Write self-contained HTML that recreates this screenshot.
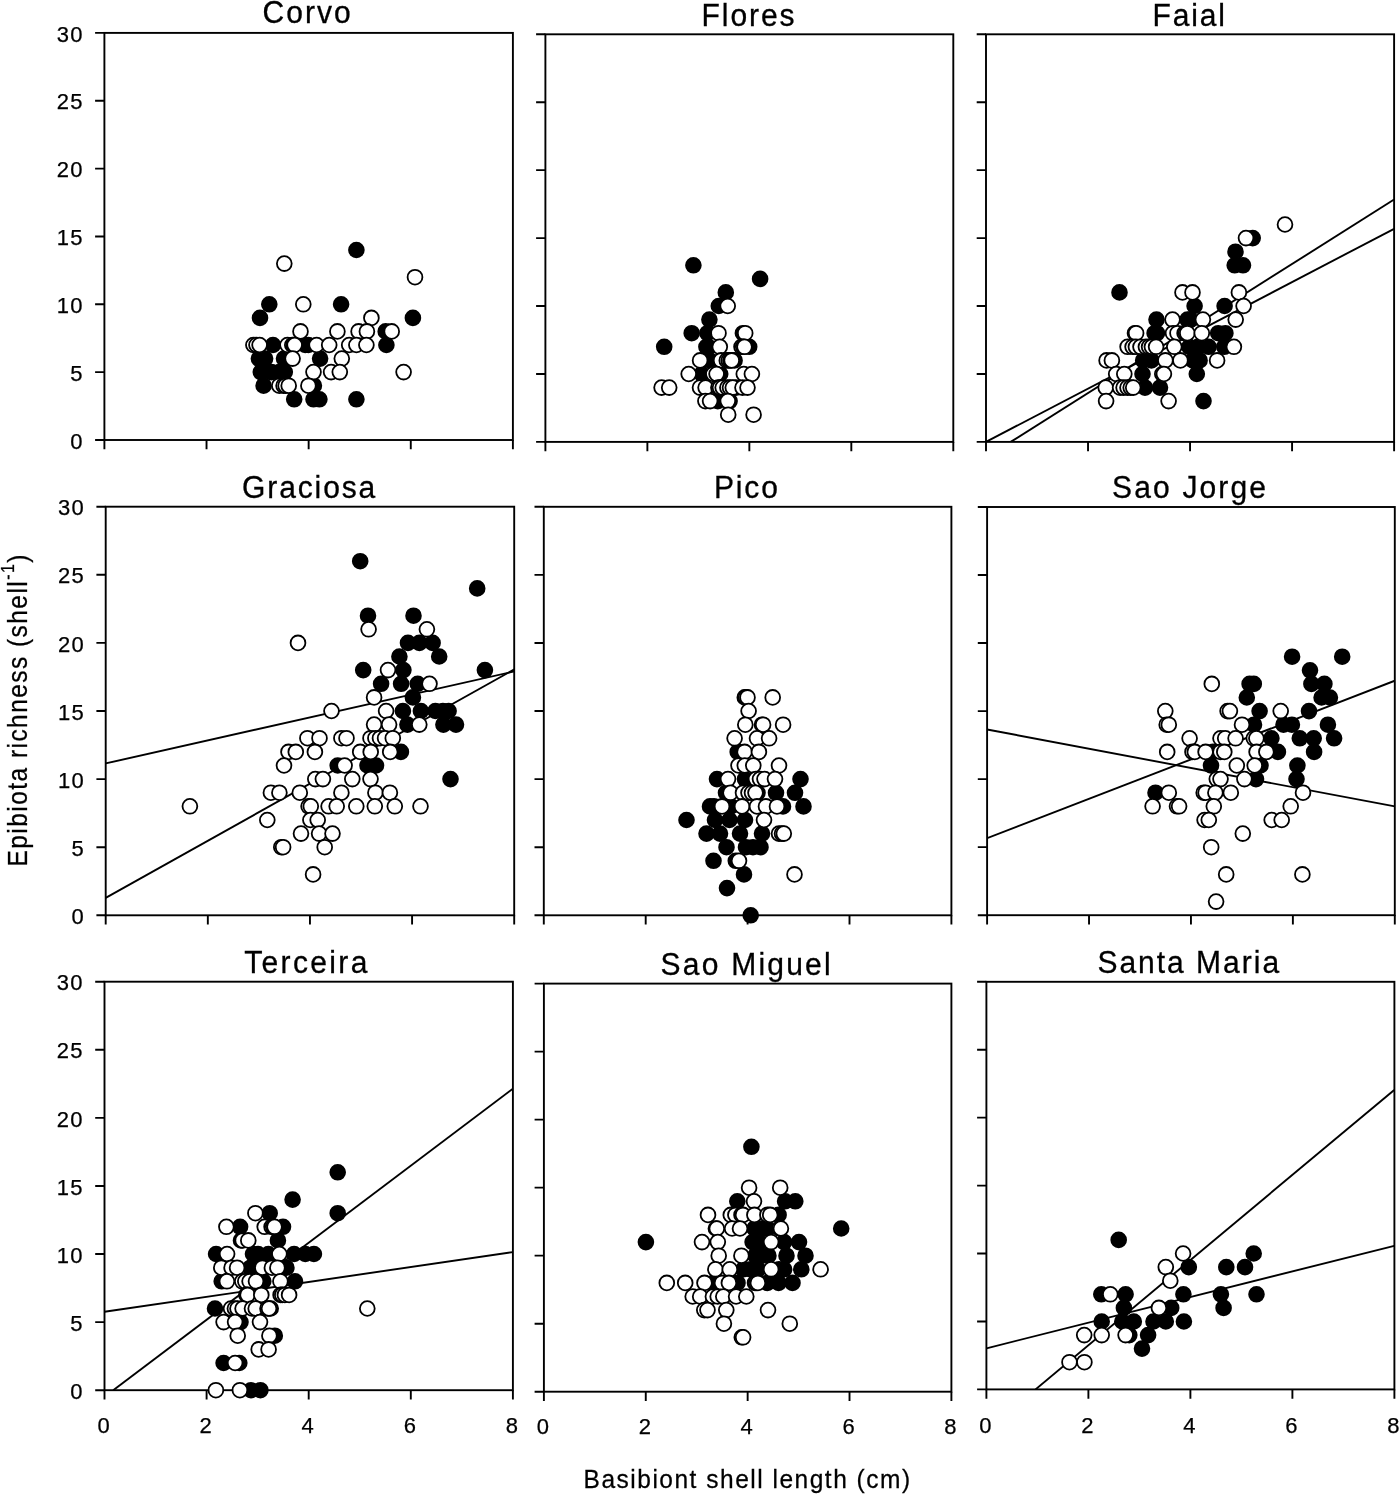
<!DOCTYPE html>
<html lang="en"><head><meta charset="utf-8"><title>Epibiota richness vs basibiont shell length</title>
<style>html,body{margin:0;padding:0;background:#fff}svg{display:block}</style></head>
<body>
<svg width="1400" height="1495" viewBox="0 0 1400 1495">
<rect width="1400" height="1495" fill="#fff"/>
<g font-family="'Liberation Sans', sans-serif" fill="#000">
<clipPath id="c1"><rect x="104.4" y="32.9" width="408.50" height="407.10"/></clipPath>
<clipPath id="c2"><rect x="545.4" y="34.3" width="407.90" height="407.60"/></clipPath>
<clipPath id="c3"><rect x="986.0" y="34.3" width="408.10" height="407.60"/></clipPath>
<clipPath id="c4"><rect x="105.7" y="506.7" width="408.50" height="408.60"/></clipPath>
<clipPath id="c5"><rect x="543.8" y="506.8" width="407.60" height="408.50"/></clipPath>
<clipPath id="c6"><rect x="987.1" y="507.0" width="407.70" height="408.20"/></clipPath>
<clipPath id="c7"><rect x="104.5" y="981.7" width="408.40" height="408.50"/></clipPath>
<clipPath id="c8"><rect x="543.9" y="983.6" width="407.50" height="408.10"/></clipPath>
<clipPath id="c9"><rect x="986.4" y="981.8" width="408.00" height="407.60"/></clipPath>
<g clip-path="url(#c1)" stroke="#000" stroke-width="1.9" fill="none">
</g>
<rect x="104.4" y="32.9" width="408.50" height="407.10" fill="none" stroke="#000" stroke-width="1.9"/>
<path d="M95.10 440.00H104.40M95.10 372.15H104.40M95.10 304.30H104.40M95.10 236.45H104.40M95.10 168.60H104.40M95.10 100.75H104.40M95.10 32.90H104.40M104.40 440.00V449.30M206.53 440.00V449.30M308.65 440.00V449.30M410.77 440.00V449.30M512.90 440.00V449.30" stroke="#000" stroke-width="1.9" fill="none"/>
<g fill="#000" stroke="#000" stroke-width="2">
<circle cx="273.0" cy="345.0" r="7.3"/>
<circle cx="305.2" cy="345.0" r="7.3"/>
<circle cx="308.4" cy="345.0" r="7.3"/>
<circle cx="258.9" cy="358.6" r="7.3"/>
<circle cx="265.1" cy="358.6" r="7.3"/>
<circle cx="284.0" cy="358.6" r="7.3"/>
<circle cx="320.1" cy="358.6" r="7.3"/>
<circle cx="260.8" cy="372.1" r="7.3"/>
<circle cx="271.4" cy="372.1" r="7.3"/>
<circle cx="279.3" cy="372.1" r="7.3"/>
<circle cx="284.8" cy="372.1" r="7.3"/>
<circle cx="263.6" cy="385.7" r="7.3"/>
<circle cx="313.9" cy="385.7" r="7.3"/>
<circle cx="294.2" cy="399.3" r="7.3"/>
<circle cx="313.5" cy="399.3" r="7.3"/>
<circle cx="319.4" cy="399.3" r="7.3"/>
<circle cx="356.4" cy="250.0" r="7.3"/>
<circle cx="269.3" cy="304.3" r="7.3"/>
<circle cx="341.1" cy="304.3" r="7.3"/>
<circle cx="260.0" cy="317.9" r="7.3"/>
<circle cx="412.9" cy="317.9" r="7.3"/>
<circle cx="385.7" cy="331.4" r="7.3"/>
<circle cx="386.4" cy="345.0" r="7.3"/>
<circle cx="356.4" cy="399.3" r="7.3"/>
</g>
<g fill="#fff" stroke="#000" stroke-width="1.8">
<circle cx="300.5" cy="331.4" r="7.4"/>
<circle cx="337.4" cy="331.4" r="7.4"/>
<circle cx="253.4" cy="345.0" r="7.4"/>
<circle cx="256.5" cy="345.0" r="7.4"/>
<circle cx="259.6" cy="345.0" r="7.4"/>
<circle cx="287.5" cy="345.0" r="7.4"/>
<circle cx="292.3" cy="345.0" r="7.4"/>
<circle cx="293.8" cy="345.0" r="7.4"/>
<circle cx="294.6" cy="345.0" r="7.4"/>
<circle cx="316.6" cy="345.0" r="7.4"/>
<circle cx="329.2" cy="345.0" r="7.4"/>
<circle cx="349.2" cy="345.0" r="7.4"/>
<circle cx="292.6" cy="358.6" r="7.4"/>
<circle cx="341.8" cy="358.6" r="7.4"/>
<circle cx="313.5" cy="372.1" r="7.4"/>
<circle cx="331.1" cy="372.1" r="7.4"/>
<circle cx="339.8" cy="372.1" r="7.4"/>
<circle cx="279.3" cy="385.7" r="7.4"/>
<circle cx="283.6" cy="385.7" r="7.4"/>
<circle cx="285.6" cy="385.7" r="7.4"/>
<circle cx="288.7" cy="385.7" r="7.4"/>
<circle cx="308.4" cy="385.7" r="7.4"/>
<circle cx="284.3" cy="263.6" r="7.4"/>
<circle cx="415.0" cy="277.2" r="7.4"/>
<circle cx="303.3" cy="304.3" r="7.4"/>
<circle cx="371.4" cy="317.9" r="7.4"/>
<circle cx="358.6" cy="331.4" r="7.4"/>
<circle cx="366.9" cy="331.4" r="7.4"/>
<circle cx="391.7" cy="331.4" r="7.4"/>
<circle cx="356.4" cy="345.0" r="7.4"/>
<circle cx="366.4" cy="345.0" r="7.4"/>
<circle cx="403.6" cy="372.1" r="7.4"/>
</g>
<text transform="translate(262.5 23.4) scale(1 1.02)" font-size="30" textLength="88.2" lengthAdjust="spacing" stroke="#000" stroke-width="0.3">Corvo</text>
<g clip-path="url(#c2)" stroke="#000" stroke-width="1.9" fill="none">
</g>
<rect x="545.4" y="34.3" width="407.90" height="407.60" fill="none" stroke="#000" stroke-width="1.9"/>
<path d="M536.10 441.90H545.40M536.10 373.97H545.40M536.10 306.03H545.40M536.10 238.10H545.40M536.10 170.17H545.40M536.10 102.23H545.40M536.10 34.30H545.40M545.40 441.90V451.20M647.38 441.90V451.20M749.35 441.90V451.20M851.32 441.90V451.20M953.30 441.90V451.20" stroke="#000" stroke-width="1.9" fill="none"/>
<g fill="#000" stroke="#000" stroke-width="2">
<circle cx="693.4" cy="265.3" r="7.3"/>
<circle cx="760.1" cy="278.9" r="7.3"/>
<circle cx="725.8" cy="292.4" r="7.3"/>
<circle cx="718.8" cy="306.0" r="7.3"/>
<circle cx="709.4" cy="319.6" r="7.3"/>
<circle cx="691.7" cy="333.2" r="7.3"/>
<circle cx="707.4" cy="333.2" r="7.3"/>
<circle cx="742.9" cy="333.2" r="7.3"/>
<circle cx="664.2" cy="346.8" r="7.3"/>
<circle cx="706.4" cy="346.8" r="7.3"/>
<circle cx="708.4" cy="346.8" r="7.3"/>
<circle cx="749.2" cy="346.8" r="7.3"/>
<circle cx="709.8" cy="360.4" r="7.3"/>
<circle cx="734.6" cy="360.4" r="7.3"/>
<circle cx="701.7" cy="374.0" r="7.3"/>
<circle cx="720.2" cy="374.0" r="7.3"/>
<circle cx="736.0" cy="387.6" r="7.3"/>
<circle cx="717.8" cy="401.1" r="7.3"/>
<circle cx="729.6" cy="401.1" r="7.3"/>
</g>
<g fill="#fff" stroke="#000" stroke-width="1.8">
<circle cx="727.7" cy="306.0" r="7.4"/>
<circle cx="718.5" cy="333.2" r="7.4"/>
<circle cx="745.2" cy="333.2" r="7.4"/>
<circle cx="719.8" cy="346.8" r="7.4"/>
<circle cx="741.5" cy="346.8" r="7.4"/>
<circle cx="743.2" cy="346.8" r="7.4"/>
<circle cx="744.5" cy="346.8" r="7.4"/>
<circle cx="700.1" cy="360.4" r="7.4"/>
<circle cx="721.1" cy="360.4" r="7.4"/>
<circle cx="726.8" cy="360.4" r="7.4"/>
<circle cx="728.8" cy="360.4" r="7.4"/>
<circle cx="730.5" cy="360.4" r="7.4"/>
<circle cx="731.7" cy="360.4" r="7.4"/>
<circle cx="688.7" cy="374.0" r="7.4"/>
<circle cx="713.4" cy="374.0" r="7.4"/>
<circle cx="716.6" cy="374.0" r="7.4"/>
<circle cx="743.8" cy="374.0" r="7.4"/>
<circle cx="751.9" cy="374.0" r="7.4"/>
<circle cx="661.6" cy="387.6" r="7.4"/>
<circle cx="669.2" cy="387.6" r="7.4"/>
<circle cx="700.0" cy="387.6" r="7.4"/>
<circle cx="705.6" cy="387.6" r="7.4"/>
<circle cx="718.4" cy="387.6" r="7.4"/>
<circle cx="720.0" cy="387.6" r="7.4"/>
<circle cx="722.7" cy="387.6" r="7.4"/>
<circle cx="727.4" cy="387.6" r="7.4"/>
<circle cx="730.0" cy="387.6" r="7.4"/>
<circle cx="732.8" cy="387.6" r="7.4"/>
<circle cx="742.5" cy="387.6" r="7.4"/>
<circle cx="747.5" cy="387.6" r="7.4"/>
<circle cx="705.4" cy="401.1" r="7.4"/>
<circle cx="710.1" cy="401.1" r="7.4"/>
<circle cx="727.8" cy="401.1" r="7.4"/>
<circle cx="728.2" cy="414.7" r="7.4"/>
<circle cx="753.6" cy="414.7" r="7.4"/>
</g>
<text transform="translate(701.6 25.7) scale(1 1.02)" font-size="30" textLength="93.0" lengthAdjust="spacing" stroke="#000" stroke-width="0.3">Flores</text>
<g clip-path="url(#c3)" stroke="#000" stroke-width="1.9" fill="none">
<line x1="1010.7" y1="441.9" x2="1394.1" y2="199.5"/>
<line x1="986.0" y1="441.9" x2="1394.1" y2="228.8"/>
</g>
<rect x="986.0" y="34.3" width="408.10" height="407.60" fill="none" stroke="#000" stroke-width="1.9"/>
<path d="M976.70 441.90H986.00M976.70 373.97H986.00M976.70 306.03H986.00M976.70 238.10H986.00M976.70 170.17H986.00M976.70 102.23H986.00M976.70 34.30H986.00M986.00 441.90V451.20M1088.03 441.90V451.20M1190.05 441.90V451.20M1292.07 441.90V451.20M1394.10 441.90V451.20" stroke="#000" stroke-width="1.9" fill="none"/>
<g fill="#000" stroke="#000" stroke-width="2">
<circle cx="1252.7" cy="238.1" r="7.3"/>
<circle cx="1235.5" cy="251.7" r="7.3"/>
<circle cx="1234.7" cy="265.3" r="7.3"/>
<circle cx="1243.0" cy="265.3" r="7.3"/>
<circle cx="1119.5" cy="292.4" r="7.3"/>
<circle cx="1194.6" cy="306.0" r="7.3"/>
<circle cx="1224.6" cy="306.0" r="7.3"/>
<circle cx="1156.5" cy="319.6" r="7.3"/>
<circle cx="1187.5" cy="319.6" r="7.3"/>
<circle cx="1190.5" cy="319.6" r="7.3"/>
<circle cx="1154.6" cy="333.2" r="7.3"/>
<circle cx="1157.0" cy="333.2" r="7.3"/>
<circle cx="1218.2" cy="333.2" r="7.3"/>
<circle cx="1225.4" cy="333.2" r="7.3"/>
<circle cx="1189.3" cy="346.8" r="7.3"/>
<circle cx="1197.9" cy="346.8" r="7.3"/>
<circle cx="1208.6" cy="346.8" r="7.3"/>
<circle cx="1224.3" cy="346.8" r="7.3"/>
<circle cx="1143.2" cy="360.4" r="7.3"/>
<circle cx="1151.4" cy="360.4" r="7.3"/>
<circle cx="1192.9" cy="360.4" r="7.3"/>
<circle cx="1199.6" cy="360.4" r="7.3"/>
<circle cx="1142.5" cy="374.0" r="7.3"/>
<circle cx="1196.8" cy="374.0" r="7.3"/>
<circle cx="1145.0" cy="387.6" r="7.3"/>
<circle cx="1160.0" cy="387.6" r="7.3"/>
<circle cx="1203.5" cy="401.1" r="7.3"/>
</g>
<g fill="#fff" stroke="#000" stroke-width="1.8">
<circle cx="1285.0" cy="224.5" r="7.4"/>
<circle cx="1246.0" cy="238.1" r="7.4"/>
<circle cx="1182.5" cy="292.4" r="7.4"/>
<circle cx="1192.5" cy="292.4" r="7.4"/>
<circle cx="1238.9" cy="292.4" r="7.4"/>
<circle cx="1243.6" cy="306.0" r="7.4"/>
<circle cx="1172.5" cy="319.6" r="7.4"/>
<circle cx="1202.9" cy="319.6" r="7.4"/>
<circle cx="1235.7" cy="319.6" r="7.4"/>
<circle cx="1135.0" cy="333.2" r="7.4"/>
<circle cx="1136.1" cy="333.2" r="7.4"/>
<circle cx="1173.0" cy="333.2" r="7.4"/>
<circle cx="1177.5" cy="333.2" r="7.4"/>
<circle cx="1184.6" cy="333.2" r="7.4"/>
<circle cx="1186.0" cy="333.2" r="7.4"/>
<circle cx="1187.3" cy="333.2" r="7.4"/>
<circle cx="1201.8" cy="333.2" r="7.4"/>
<circle cx="1127.6" cy="346.8" r="7.4"/>
<circle cx="1132.6" cy="346.8" r="7.4"/>
<circle cx="1135.9" cy="346.8" r="7.4"/>
<circle cx="1140.5" cy="346.8" r="7.4"/>
<circle cx="1145.9" cy="346.8" r="7.4"/>
<circle cx="1149.1" cy="346.8" r="7.4"/>
<circle cx="1151.9" cy="346.8" r="7.4"/>
<circle cx="1156.1" cy="346.8" r="7.4"/>
<circle cx="1174.3" cy="346.8" r="7.4"/>
<circle cx="1233.9" cy="346.8" r="7.4"/>
<circle cx="1106.6" cy="360.4" r="7.4"/>
<circle cx="1111.9" cy="360.4" r="7.4"/>
<circle cx="1165.4" cy="360.4" r="7.4"/>
<circle cx="1180.4" cy="360.4" r="7.4"/>
<circle cx="1217.1" cy="360.4" r="7.4"/>
<circle cx="1116.2" cy="374.0" r="7.4"/>
<circle cx="1124.3" cy="374.0" r="7.4"/>
<circle cx="1162.3" cy="374.0" r="7.4"/>
<circle cx="1163.9" cy="374.0" r="7.4"/>
<circle cx="1105.7" cy="387.6" r="7.4"/>
<circle cx="1120.1" cy="387.6" r="7.4"/>
<circle cx="1123.6" cy="387.6" r="7.4"/>
<circle cx="1127.5" cy="387.6" r="7.4"/>
<circle cx="1130.7" cy="387.6" r="7.4"/>
<circle cx="1133.2" cy="387.6" r="7.4"/>
<circle cx="1106.1" cy="401.1" r="7.4"/>
<circle cx="1168.6" cy="401.1" r="7.4"/>
</g>
<text transform="translate(1152.5 25.7) scale(1 1.02)" font-size="30" textLength="72.5" lengthAdjust="spacing" stroke="#000" stroke-width="0.3">Faial</text>
<g clip-path="url(#c4)" stroke="#000" stroke-width="1.9" fill="none">
<line x1="105.7" y1="763.4" x2="514.4" y2="671.4"/>
<line x1="105.7" y1="897.9" x2="514.4" y2="669.3"/>
</g>
<rect x="105.7" y="506.7" width="408.50" height="408.60" fill="none" stroke="#000" stroke-width="1.9"/>
<path d="M96.40 915.30H105.70M96.40 847.20H105.70M96.40 779.10H105.70M96.40 711.00H105.70M96.40 642.90H105.70M96.40 574.80H105.70M96.40 506.70H105.70M105.70 915.30V924.60M207.83 915.30V924.60M309.95 915.30V924.60M412.08 915.30V924.60M514.20 915.30V924.60" stroke="#000" stroke-width="1.9" fill="none"/>
<g fill="#000" stroke="#000" stroke-width="2">
<circle cx="360.2" cy="561.2" r="7.3"/>
<circle cx="477.2" cy="588.4" r="7.3"/>
<circle cx="368.0" cy="615.7" r="7.3"/>
<circle cx="413.5" cy="615.7" r="7.3"/>
<circle cx="408.0" cy="642.9" r="7.3"/>
<circle cx="419.4" cy="642.9" r="7.3"/>
<circle cx="432.6" cy="642.9" r="7.3"/>
<circle cx="399.4" cy="656.5" r="7.3"/>
<circle cx="439.2" cy="656.5" r="7.3"/>
<circle cx="363.2" cy="670.1" r="7.3"/>
<circle cx="403.4" cy="670.1" r="7.3"/>
<circle cx="484.9" cy="670.1" r="7.3"/>
<circle cx="381.1" cy="683.8" r="7.3"/>
<circle cx="401.1" cy="683.8" r="7.3"/>
<circle cx="417.7" cy="683.8" r="7.3"/>
<circle cx="412.9" cy="697.4" r="7.3"/>
<circle cx="402.9" cy="711.0" r="7.3"/>
<circle cx="420.9" cy="711.0" r="7.3"/>
<circle cx="435.4" cy="711.0" r="7.3"/>
<circle cx="442.9" cy="711.0" r="7.3"/>
<circle cx="448.6" cy="711.0" r="7.3"/>
<circle cx="407.4" cy="724.6" r="7.3"/>
<circle cx="443.4" cy="724.6" r="7.3"/>
<circle cx="456.0" cy="724.6" r="7.3"/>
<circle cx="400.9" cy="751.9" r="7.3"/>
<circle cx="337.7" cy="765.5" r="7.3"/>
<circle cx="367.5" cy="765.5" r="7.3"/>
<circle cx="376.0" cy="765.5" r="7.3"/>
<circle cx="450.5" cy="779.1" r="7.3"/>
</g>
<g fill="#fff" stroke="#000" stroke-width="1.8">
<circle cx="368.6" cy="629.3" r="7.4"/>
<circle cx="426.9" cy="629.3" r="7.4"/>
<circle cx="298.0" cy="642.9" r="7.4"/>
<circle cx="388.0" cy="670.1" r="7.4"/>
<circle cx="429.5" cy="683.8" r="7.4"/>
<circle cx="374.1" cy="697.4" r="7.4"/>
<circle cx="331.5" cy="711.0" r="7.4"/>
<circle cx="386.1" cy="711.0" r="7.4"/>
<circle cx="374.1" cy="724.6" r="7.4"/>
<circle cx="389.1" cy="724.6" r="7.4"/>
<circle cx="419.3" cy="724.6" r="7.4"/>
<circle cx="307.4" cy="738.2" r="7.4"/>
<circle cx="319.5" cy="738.2" r="7.4"/>
<circle cx="341.4" cy="738.2" r="7.4"/>
<circle cx="346.5" cy="738.2" r="7.4"/>
<circle cx="370.5" cy="738.2" r="7.4"/>
<circle cx="375.4" cy="738.2" r="7.4"/>
<circle cx="380.0" cy="738.2" r="7.4"/>
<circle cx="385.1" cy="738.2" r="7.4"/>
<circle cx="392.8" cy="738.2" r="7.4"/>
<circle cx="288.5" cy="751.9" r="7.4"/>
<circle cx="295.8" cy="751.9" r="7.4"/>
<circle cx="314.9" cy="751.9" r="7.4"/>
<circle cx="360.2" cy="751.9" r="7.4"/>
<circle cx="370.7" cy="751.9" r="7.4"/>
<circle cx="390.2" cy="751.9" r="7.4"/>
<circle cx="284.0" cy="765.5" r="7.4"/>
<circle cx="344.6" cy="765.5" r="7.4"/>
<circle cx="315.3" cy="779.1" r="7.4"/>
<circle cx="322.9" cy="779.1" r="7.4"/>
<circle cx="352.3" cy="779.1" r="7.4"/>
<circle cx="370.5" cy="779.1" r="7.4"/>
<circle cx="270.9" cy="792.7" r="7.4"/>
<circle cx="279.4" cy="792.7" r="7.4"/>
<circle cx="299.8" cy="792.7" r="7.4"/>
<circle cx="341.4" cy="792.7" r="7.4"/>
<circle cx="375.4" cy="792.7" r="7.4"/>
<circle cx="389.9" cy="792.7" r="7.4"/>
<circle cx="189.9" cy="806.3" r="7.4"/>
<circle cx="308.6" cy="806.3" r="7.4"/>
<circle cx="310.8" cy="806.3" r="7.4"/>
<circle cx="328.6" cy="806.3" r="7.4"/>
<circle cx="336.7" cy="806.3" r="7.4"/>
<circle cx="356.3" cy="806.3" r="7.4"/>
<circle cx="374.8" cy="806.3" r="7.4"/>
<circle cx="394.8" cy="806.3" r="7.4"/>
<circle cx="420.5" cy="806.3" r="7.4"/>
<circle cx="267.3" cy="820.0" r="7.4"/>
<circle cx="310.4" cy="820.0" r="7.4"/>
<circle cx="317.7" cy="820.0" r="7.4"/>
<circle cx="301.0" cy="833.6" r="7.4"/>
<circle cx="319.1" cy="833.6" r="7.4"/>
<circle cx="332.5" cy="833.6" r="7.4"/>
<circle cx="281.3" cy="847.2" r="7.4"/>
<circle cx="283.1" cy="847.2" r="7.4"/>
<circle cx="324.7" cy="847.2" r="7.4"/>
<circle cx="313.1" cy="874.4" r="7.4"/>
</g>
<text transform="translate(242.1 498.3) scale(1 1.02)" font-size="30" textLength="133.2" lengthAdjust="spacing" stroke="#000" stroke-width="0.3">Graciosa</text>
<g clip-path="url(#c5)" stroke="#000" stroke-width="1.9" fill="none">
</g>
<rect x="543.8" y="506.8" width="407.60" height="408.50" fill="none" stroke="#000" stroke-width="1.9"/>
<path d="M534.50 915.30H543.80M534.50 847.22H543.80M534.50 779.13H543.80M534.50 711.05H543.80M534.50 642.97H543.80M534.50 574.88H543.80M534.50 506.80H543.80M543.80 915.30V924.60M645.70 915.30V924.60M747.60 915.30V924.60M849.50 915.30V924.60M951.40 915.30V924.60" stroke="#000" stroke-width="1.9" fill="none"/>
<g fill="#000" stroke="#000" stroke-width="2">
<circle cx="737.7" cy="751.9" r="7.3"/>
<circle cx="717.0" cy="779.1" r="7.3"/>
<circle cx="745.0" cy="779.1" r="7.3"/>
<circle cx="800.5" cy="779.1" r="7.3"/>
<circle cx="726.0" cy="792.8" r="7.3"/>
<circle cx="757.5" cy="792.8" r="7.3"/>
<circle cx="776.0" cy="792.8" r="7.3"/>
<circle cx="795.0" cy="792.8" r="7.3"/>
<circle cx="710.0" cy="806.4" r="7.3"/>
<circle cx="714.0" cy="806.4" r="7.3"/>
<circle cx="731.0" cy="806.4" r="7.3"/>
<circle cx="783.0" cy="806.4" r="7.3"/>
<circle cx="803.5" cy="806.4" r="7.3"/>
<circle cx="686.5" cy="820.0" r="7.3"/>
<circle cx="715.0" cy="820.0" r="7.3"/>
<circle cx="729.5" cy="820.0" r="7.3"/>
<circle cx="745.0" cy="820.0" r="7.3"/>
<circle cx="706.5" cy="833.6" r="7.3"/>
<circle cx="720.0" cy="833.6" r="7.3"/>
<circle cx="740.0" cy="833.6" r="7.3"/>
<circle cx="762.0" cy="833.6" r="7.3"/>
<circle cx="726.5" cy="847.2" r="7.3"/>
<circle cx="746.0" cy="847.2" r="7.3"/>
<circle cx="753.0" cy="847.2" r="7.3"/>
<circle cx="760.5" cy="847.2" r="7.3"/>
<circle cx="713.5" cy="860.8" r="7.3"/>
<circle cx="735.8" cy="860.8" r="7.3"/>
<circle cx="744.0" cy="874.4" r="7.3"/>
<circle cx="727.0" cy="888.1" r="7.3"/>
<circle cx="750.7" cy="915.3" r="7.3"/>
</g>
<g fill="#fff" stroke="#000" stroke-width="1.8">
<circle cx="744.8" cy="697.4" r="7.4"/>
<circle cx="746.0" cy="697.4" r="7.4"/>
<circle cx="747.5" cy="697.4" r="7.4"/>
<circle cx="772.7" cy="697.4" r="7.4"/>
<circle cx="748.6" cy="711.0" r="7.4"/>
<circle cx="745.3" cy="724.7" r="7.4"/>
<circle cx="762.0" cy="724.7" r="7.4"/>
<circle cx="763.1" cy="724.7" r="7.4"/>
<circle cx="783.1" cy="724.7" r="7.4"/>
<circle cx="734.6" cy="738.3" r="7.4"/>
<circle cx="757.0" cy="738.3" r="7.4"/>
<circle cx="769.1" cy="738.3" r="7.4"/>
<circle cx="744.6" cy="751.9" r="7.4"/>
<circle cx="758.9" cy="751.9" r="7.4"/>
<circle cx="738.5" cy="765.5" r="7.4"/>
<circle cx="744.8" cy="765.5" r="7.4"/>
<circle cx="753.3" cy="765.5" r="7.4"/>
<circle cx="779.0" cy="765.5" r="7.4"/>
<circle cx="728.0" cy="779.1" r="7.4"/>
<circle cx="756.0" cy="779.1" r="7.4"/>
<circle cx="760.0" cy="779.1" r="7.4"/>
<circle cx="764.5" cy="779.1" r="7.4"/>
<circle cx="775.0" cy="779.1" r="7.4"/>
<circle cx="730.5" cy="792.8" r="7.4"/>
<circle cx="743.0" cy="792.8" r="7.4"/>
<circle cx="748.5" cy="792.8" r="7.4"/>
<circle cx="752.0" cy="792.8" r="7.4"/>
<circle cx="755.5" cy="792.8" r="7.4"/>
<circle cx="722.0" cy="806.4" r="7.4"/>
<circle cx="742.0" cy="806.4" r="7.4"/>
<circle cx="757.0" cy="806.4" r="7.4"/>
<circle cx="766.0" cy="806.4" r="7.4"/>
<circle cx="777.0" cy="806.4" r="7.4"/>
<circle cx="764.0" cy="820.0" r="7.4"/>
<circle cx="779.0" cy="833.6" r="7.4"/>
<circle cx="782.0" cy="833.6" r="7.4"/>
<circle cx="783.8" cy="833.6" r="7.4"/>
<circle cx="739.0" cy="860.8" r="7.4"/>
<circle cx="794.5" cy="874.4" r="7.4"/>
</g>
<text transform="translate(713.9 498.3) scale(1 1.02)" font-size="30" textLength="64.0" lengthAdjust="spacing" stroke="#000" stroke-width="0.3">Pico</text>
<g clip-path="url(#c6)" stroke="#000" stroke-width="1.9" fill="none">
<line x1="987.1" y1="729.5" x2="1394.8" y2="806.4"/>
<line x1="987.1" y1="838.2" x2="1394.8" y2="680.7"/>
</g>
<rect x="987.1" y="507.0" width="407.70" height="408.20" fill="none" stroke="#000" stroke-width="1.9"/>
<path d="M977.80 915.20H987.10M977.80 847.17H987.10M977.80 779.13H987.10M977.80 711.10H987.10M977.80 643.07H987.10M977.80 575.03H987.10M977.80 507.00H987.10M987.10 915.20V924.50M1089.03 915.20V924.50M1190.95 915.20V924.50M1292.88 915.20V924.50M1394.80 915.20V924.50" stroke="#000" stroke-width="1.9" fill="none"/>
<g fill="#000" stroke="#000" stroke-width="2">
<circle cx="1292.1" cy="656.7" r="7.3"/>
<circle cx="1342.2" cy="656.7" r="7.3"/>
<circle cx="1310.0" cy="670.3" r="7.3"/>
<circle cx="1249.6" cy="683.9" r="7.3"/>
<circle cx="1253.8" cy="683.9" r="7.3"/>
<circle cx="1311.4" cy="683.9" r="7.3"/>
<circle cx="1324.4" cy="683.9" r="7.3"/>
<circle cx="1246.8" cy="697.5" r="7.3"/>
<circle cx="1321.6" cy="697.5" r="7.3"/>
<circle cx="1329.9" cy="697.5" r="7.3"/>
<circle cx="1259.6" cy="711.1" r="7.3"/>
<circle cx="1309.0" cy="711.1" r="7.3"/>
<circle cx="1254.0" cy="724.7" r="7.3"/>
<circle cx="1283.5" cy="724.7" r="7.3"/>
<circle cx="1291.9" cy="724.7" r="7.3"/>
<circle cx="1327.9" cy="724.7" r="7.3"/>
<circle cx="1271.4" cy="738.3" r="7.3"/>
<circle cx="1299.8" cy="738.3" r="7.3"/>
<circle cx="1313.7" cy="738.3" r="7.3"/>
<circle cx="1334.1" cy="738.3" r="7.3"/>
<circle cx="1213.0" cy="751.9" r="7.3"/>
<circle cx="1277.9" cy="751.9" r="7.3"/>
<circle cx="1314.1" cy="751.9" r="7.3"/>
<circle cx="1211.0" cy="765.5" r="7.3"/>
<circle cx="1260.5" cy="765.5" r="7.3"/>
<circle cx="1297.4" cy="765.5" r="7.3"/>
<circle cx="1256.0" cy="779.1" r="7.3"/>
<circle cx="1296.5" cy="779.1" r="7.3"/>
<circle cx="1155.5" cy="792.7" r="7.3"/>
</g>
<g fill="#fff" stroke="#000" stroke-width="1.8">
<circle cx="1211.8" cy="683.9" r="7.4"/>
<circle cx="1165.3" cy="711.1" r="7.4"/>
<circle cx="1227.6" cy="711.1" r="7.4"/>
<circle cx="1229.9" cy="711.1" r="7.4"/>
<circle cx="1280.7" cy="711.1" r="7.4"/>
<circle cx="1166.7" cy="724.7" r="7.4"/>
<circle cx="1168.8" cy="724.7" r="7.4"/>
<circle cx="1242.0" cy="724.7" r="7.4"/>
<circle cx="1189.6" cy="738.3" r="7.4"/>
<circle cx="1220.5" cy="738.3" r="7.4"/>
<circle cx="1225.2" cy="738.3" r="7.4"/>
<circle cx="1235.6" cy="738.3" r="7.4"/>
<circle cx="1253.8" cy="738.3" r="7.4"/>
<circle cx="1256.4" cy="738.3" r="7.4"/>
<circle cx="1167.2" cy="751.9" r="7.4"/>
<circle cx="1192.5" cy="751.9" r="7.4"/>
<circle cx="1194.8" cy="751.9" r="7.4"/>
<circle cx="1205.6" cy="751.9" r="7.4"/>
<circle cx="1220.5" cy="751.9" r="7.4"/>
<circle cx="1224.3" cy="751.9" r="7.4"/>
<circle cx="1256.6" cy="751.9" r="7.4"/>
<circle cx="1266.4" cy="751.9" r="7.4"/>
<circle cx="1236.8" cy="765.5" r="7.4"/>
<circle cx="1254.7" cy="765.5" r="7.4"/>
<circle cx="1216.8" cy="779.1" r="7.4"/>
<circle cx="1220.5" cy="779.1" r="7.4"/>
<circle cx="1244.4" cy="779.1" r="7.4"/>
<circle cx="1168.8" cy="792.7" r="7.4"/>
<circle cx="1203.7" cy="792.7" r="7.4"/>
<circle cx="1205.6" cy="792.7" r="7.4"/>
<circle cx="1215.4" cy="792.7" r="7.4"/>
<circle cx="1230.8" cy="792.7" r="7.4"/>
<circle cx="1303.0" cy="792.7" r="7.4"/>
<circle cx="1152.6" cy="806.3" r="7.4"/>
<circle cx="1177.0" cy="806.3" r="7.4"/>
<circle cx="1179.1" cy="806.3" r="7.4"/>
<circle cx="1213.8" cy="806.3" r="7.4"/>
<circle cx="1290.7" cy="806.3" r="7.4"/>
<circle cx="1204.6" cy="820.0" r="7.4"/>
<circle cx="1208.8" cy="820.0" r="7.4"/>
<circle cx="1271.7" cy="820.0" r="7.4"/>
<circle cx="1281.7" cy="820.0" r="7.4"/>
<circle cx="1242.8" cy="833.6" r="7.4"/>
<circle cx="1211.2" cy="847.2" r="7.4"/>
<circle cx="1226.2" cy="874.4" r="7.4"/>
<circle cx="1302.4" cy="874.4" r="7.4"/>
<circle cx="1216.1" cy="901.6" r="7.4"/>
</g>
<text transform="translate(1112.1 498.2) scale(1 1.02)" font-size="30" textLength="153.9" lengthAdjust="spacing" stroke="#000" stroke-width="0.3">Sao Jorge</text>
<g clip-path="url(#c7)" stroke="#000" stroke-width="1.9" fill="none">
<line x1="113.2" y1="1390.2" x2="512.9" y2="1088.7"/>
<line x1="104.5" y1="1311.8" x2="512.9" y2="1252.1"/>
</g>
<rect x="104.5" y="981.7" width="408.40" height="408.50" fill="none" stroke="#000" stroke-width="1.9"/>
<path d="M95.20 1390.20H104.50M95.20 1322.12H104.50M95.20 1254.03H104.50M95.20 1185.95H104.50M95.20 1117.87H104.50M95.20 1049.78H104.50M95.20 981.70H104.50M104.50 1390.20V1399.50M206.60 1390.20V1399.50M308.70 1390.20V1399.50M410.80 1390.20V1399.50M512.90 1390.20V1399.50" stroke="#000" stroke-width="1.9" fill="none"/>
<g fill="#000" stroke="#000" stroke-width="2">
<circle cx="337.7" cy="1172.3" r="7.3"/>
<circle cx="292.6" cy="1199.6" r="7.3"/>
<circle cx="269.7" cy="1213.2" r="7.3"/>
<circle cx="337.7" cy="1213.2" r="7.3"/>
<circle cx="240.1" cy="1226.8" r="7.3"/>
<circle cx="283.0" cy="1226.8" r="7.3"/>
<circle cx="241.0" cy="1240.4" r="7.3"/>
<circle cx="277.9" cy="1240.4" r="7.3"/>
<circle cx="216.1" cy="1254.0" r="7.3"/>
<circle cx="253.0" cy="1254.0" r="7.3"/>
<circle cx="258.1" cy="1254.0" r="7.3"/>
<circle cx="268.4" cy="1254.0" r="7.3"/>
<circle cx="294.1" cy="1254.0" r="7.3"/>
<circle cx="305.3" cy="1254.0" r="7.3"/>
<circle cx="313.9" cy="1254.0" r="7.3"/>
<circle cx="250.4" cy="1267.7" r="7.3"/>
<circle cx="286.4" cy="1267.7" r="7.3"/>
<circle cx="221.7" cy="1281.3" r="7.3"/>
<circle cx="263.3" cy="1281.3" r="7.3"/>
<circle cx="295.0" cy="1281.3" r="7.3"/>
<circle cx="215.0" cy="1308.5" r="7.3"/>
<circle cx="270.7" cy="1308.5" r="7.3"/>
<circle cx="240.5" cy="1322.1" r="7.3"/>
<circle cx="274.8" cy="1335.7" r="7.3"/>
<circle cx="223.6" cy="1363.0" r="7.3"/>
<circle cx="239.3" cy="1363.0" r="7.3"/>
<circle cx="251.0" cy="1390.2" r="7.3"/>
<circle cx="260.4" cy="1390.2" r="7.3"/>
</g>
<g fill="#fff" stroke="#000" stroke-width="1.8">
<circle cx="255.4" cy="1213.2" r="7.4"/>
<circle cx="226.4" cy="1226.8" r="7.4"/>
<circle cx="264.7" cy="1226.8" r="7.4"/>
<circle cx="271.6" cy="1226.8" r="7.4"/>
<circle cx="273.2" cy="1226.8" r="7.4"/>
<circle cx="274.5" cy="1226.8" r="7.4"/>
<circle cx="242.7" cy="1240.4" r="7.4"/>
<circle cx="248.3" cy="1240.4" r="7.4"/>
<circle cx="227.1" cy="1254.0" r="7.4"/>
<circle cx="279.4" cy="1254.0" r="7.4"/>
<circle cx="221.3" cy="1267.7" r="7.4"/>
<circle cx="231.6" cy="1267.7" r="7.4"/>
<circle cx="237.1" cy="1267.7" r="7.4"/>
<circle cx="262.4" cy="1267.7" r="7.4"/>
<circle cx="271.9" cy="1267.7" r="7.4"/>
<circle cx="277.4" cy="1267.7" r="7.4"/>
<circle cx="226.9" cy="1281.3" r="7.4"/>
<circle cx="242.3" cy="1281.3" r="7.4"/>
<circle cx="245.3" cy="1281.3" r="7.4"/>
<circle cx="249.6" cy="1281.3" r="7.4"/>
<circle cx="256.0" cy="1281.3" r="7.4"/>
<circle cx="280.4" cy="1281.3" r="7.4"/>
<circle cx="246.4" cy="1294.9" r="7.4"/>
<circle cx="247.6" cy="1294.9" r="7.4"/>
<circle cx="261.3" cy="1294.9" r="7.4"/>
<circle cx="280.6" cy="1294.9" r="7.4"/>
<circle cx="282.3" cy="1294.9" r="7.4"/>
<circle cx="284.9" cy="1294.9" r="7.4"/>
<circle cx="289.1" cy="1294.9" r="7.4"/>
<circle cx="231.0" cy="1308.5" r="7.4"/>
<circle cx="234.9" cy="1308.5" r="7.4"/>
<circle cx="237.5" cy="1308.5" r="7.4"/>
<circle cx="242.6" cy="1308.5" r="7.4"/>
<circle cx="252.0" cy="1308.5" r="7.4"/>
<circle cx="255.7" cy="1308.5" r="7.4"/>
<circle cx="267.5" cy="1308.5" r="7.4"/>
<circle cx="269.0" cy="1308.5" r="7.4"/>
<circle cx="367.3" cy="1308.5" r="7.4"/>
<circle cx="223.6" cy="1322.1" r="7.4"/>
<circle cx="235.1" cy="1322.1" r="7.4"/>
<circle cx="260.0" cy="1322.1" r="7.4"/>
<circle cx="237.7" cy="1335.7" r="7.4"/>
<circle cx="269.4" cy="1335.7" r="7.4"/>
<circle cx="258.7" cy="1349.4" r="7.4"/>
<circle cx="268.6" cy="1349.4" r="7.4"/>
<circle cx="235.1" cy="1363.0" r="7.4"/>
<circle cx="215.9" cy="1390.2" r="7.4"/>
<circle cx="239.9" cy="1390.2" r="7.4"/>
</g>
<text transform="translate(244.2 973.4) scale(1 1.02)" font-size="30" textLength="123.2" lengthAdjust="spacing" stroke="#000" stroke-width="0.3">Terceira</text>
<g clip-path="url(#c8)" stroke="#000" stroke-width="1.9" fill="none">
</g>
<rect x="543.9" y="983.6" width="407.50" height="408.10" fill="none" stroke="#000" stroke-width="1.9"/>
<path d="M534.60 1391.70H543.90M534.60 1323.68H543.90M534.60 1255.67H543.90M534.60 1187.65H543.90M534.60 1119.63H543.90M534.60 1051.62H543.90M534.60 983.60H543.90M543.90 1391.70V1401.00M645.77 1391.70V1401.00M747.65 1391.70V1401.00M849.52 1391.70V1401.00M951.40 1391.70V1401.00" stroke="#000" stroke-width="1.9" fill="none"/>
<g fill="#000" stroke="#000" stroke-width="2">
<circle cx="751.4" cy="1146.8" r="7.3"/>
<circle cx="737.3" cy="1201.3" r="7.3"/>
<circle cx="785.1" cy="1201.3" r="7.3"/>
<circle cx="795.3" cy="1201.3" r="7.3"/>
<circle cx="778.6" cy="1214.9" r="7.3"/>
<circle cx="754.4" cy="1228.5" r="7.3"/>
<circle cx="761.9" cy="1228.5" r="7.3"/>
<circle cx="767.4" cy="1228.5" r="7.3"/>
<circle cx="841.2" cy="1228.5" r="7.3"/>
<circle cx="645.9" cy="1242.1" r="7.3"/>
<circle cx="752.6" cy="1242.1" r="7.3"/>
<circle cx="759.1" cy="1242.1" r="7.3"/>
<circle cx="784.1" cy="1242.1" r="7.3"/>
<circle cx="799.0" cy="1242.1" r="7.3"/>
<circle cx="755.4" cy="1255.7" r="7.3"/>
<circle cx="761.9" cy="1255.7" r="7.3"/>
<circle cx="768.4" cy="1255.7" r="7.3"/>
<circle cx="786.5" cy="1255.7" r="7.3"/>
<circle cx="805.5" cy="1255.7" r="7.3"/>
<circle cx="743.3" cy="1269.3" r="7.3"/>
<circle cx="750.7" cy="1269.3" r="7.3"/>
<circle cx="758.1" cy="1269.3" r="7.3"/>
<circle cx="779.0" cy="1269.3" r="7.3"/>
<circle cx="784.1" cy="1269.3" r="7.3"/>
<circle cx="801.3" cy="1269.3" r="7.3"/>
<circle cx="713.4" cy="1282.9" r="7.3"/>
<circle cx="737.5" cy="1282.9" r="7.3"/>
<circle cx="755.0" cy="1282.9" r="7.3"/>
<circle cx="767.4" cy="1282.9" r="7.3"/>
<circle cx="778.6" cy="1282.9" r="7.3"/>
<circle cx="792.5" cy="1282.9" r="7.3"/>
</g>
<g fill="#fff" stroke="#000" stroke-width="1.8">
<circle cx="749.1" cy="1187.7" r="7.4"/>
<circle cx="780.2" cy="1187.7" r="7.4"/>
<circle cx="754.0" cy="1201.3" r="7.4"/>
<circle cx="708.0" cy="1214.9" r="7.4"/>
<circle cx="730.8" cy="1214.9" r="7.4"/>
<circle cx="735.4" cy="1214.9" r="7.4"/>
<circle cx="741.5" cy="1214.9" r="7.4"/>
<circle cx="743.0" cy="1214.9" r="7.4"/>
<circle cx="754.4" cy="1214.9" r="7.4"/>
<circle cx="767.4" cy="1214.9" r="7.4"/>
<circle cx="770.2" cy="1214.9" r="7.4"/>
<circle cx="715.9" cy="1228.5" r="7.4"/>
<circle cx="716.8" cy="1228.5" r="7.4"/>
<circle cx="732.1" cy="1228.5" r="7.4"/>
<circle cx="740.0" cy="1228.5" r="7.4"/>
<circle cx="779.5" cy="1228.5" r="7.4"/>
<circle cx="780.9" cy="1228.5" r="7.4"/>
<circle cx="702.0" cy="1242.1" r="7.4"/>
<circle cx="717.8" cy="1242.1" r="7.4"/>
<circle cx="771.1" cy="1242.1" r="7.4"/>
<circle cx="718.7" cy="1255.7" r="7.4"/>
<circle cx="741.4" cy="1255.7" r="7.4"/>
<circle cx="715.4" cy="1269.3" r="7.4"/>
<circle cx="729.8" cy="1269.3" r="7.4"/>
<circle cx="771.1" cy="1269.3" r="7.4"/>
<circle cx="820.6" cy="1269.3" r="7.4"/>
<circle cx="666.8" cy="1282.9" r="7.4"/>
<circle cx="685.2" cy="1282.9" r="7.4"/>
<circle cx="704.5" cy="1282.9" r="7.4"/>
<circle cx="722.0" cy="1282.9" r="7.4"/>
<circle cx="728.9" cy="1282.9" r="7.4"/>
<circle cx="756.3" cy="1282.9" r="7.4"/>
<circle cx="757.9" cy="1282.9" r="7.4"/>
<circle cx="692.7" cy="1296.5" r="7.4"/>
<circle cx="700.2" cy="1296.5" r="7.4"/>
<circle cx="712.9" cy="1296.5" r="7.4"/>
<circle cx="717.7" cy="1296.5" r="7.4"/>
<circle cx="723.3" cy="1296.5" r="7.4"/>
<circle cx="736.1" cy="1296.5" r="7.4"/>
<circle cx="746.3" cy="1296.5" r="7.4"/>
<circle cx="704.3" cy="1310.1" r="7.4"/>
<circle cx="707.5" cy="1310.1" r="7.4"/>
<circle cx="726.3" cy="1310.1" r="7.4"/>
<circle cx="768.0" cy="1310.1" r="7.4"/>
<circle cx="723.9" cy="1323.7" r="7.4"/>
<circle cx="789.8" cy="1323.7" r="7.4"/>
<circle cx="741.8" cy="1337.3" r="7.4"/>
<circle cx="743.1" cy="1337.3" r="7.4"/>
</g>
<text transform="translate(660.6 975.0) scale(1 1.02)" font-size="30" textLength="170.1" lengthAdjust="spacing" stroke="#000" stroke-width="0.3">Sao Miguel</text>
<g clip-path="url(#c9)" stroke="#000" stroke-width="1.9" fill="none">
<line x1="1035.5" y1="1389.4" x2="1394.2" y2="1089.9"/>
<line x1="986.5" y1="1348.3" x2="1394.2" y2="1245.8"/>
</g>
<rect x="986.4" y="981.8" width="408.00" height="407.60" fill="none" stroke="#000" stroke-width="1.9"/>
<path d="M977.10 1389.40H986.40M977.10 1321.47H986.40M977.10 1253.53H986.40M977.10 1185.60H986.40M977.10 1117.67H986.40M977.10 1049.73H986.40M977.10 981.80H986.40M986.40 1389.40V1398.70M1088.40 1389.40V1398.70M1190.40 1389.40V1398.70M1292.40 1389.40V1398.70M1394.40 1389.40V1398.70" stroke="#000" stroke-width="1.9" fill="none"/>
<g fill="#000" stroke="#000" stroke-width="2">
<circle cx="1118.7" cy="1239.9" r="7.3"/>
<circle cx="1253.7" cy="1253.5" r="7.3"/>
<circle cx="1188.8" cy="1267.1" r="7.3"/>
<circle cx="1226.3" cy="1267.1" r="7.3"/>
<circle cx="1245.0" cy="1267.1" r="7.3"/>
<circle cx="1101.3" cy="1294.3" r="7.3"/>
<circle cx="1125.6" cy="1294.3" r="7.3"/>
<circle cx="1183.4" cy="1294.3" r="7.3"/>
<circle cx="1220.9" cy="1294.3" r="7.3"/>
<circle cx="1256.5" cy="1294.3" r="7.3"/>
<circle cx="1123.9" cy="1307.9" r="7.3"/>
<circle cx="1171.2" cy="1307.9" r="7.3"/>
<circle cx="1223.6" cy="1307.9" r="7.3"/>
<circle cx="1101.7" cy="1321.5" r="7.3"/>
<circle cx="1122.3" cy="1321.5" r="7.3"/>
<circle cx="1133.8" cy="1321.5" r="7.3"/>
<circle cx="1153.5" cy="1321.5" r="7.3"/>
<circle cx="1165.8" cy="1321.5" r="7.3"/>
<circle cx="1183.9" cy="1321.5" r="7.3"/>
<circle cx="1129.3" cy="1335.1" r="7.3"/>
<circle cx="1148.1" cy="1335.1" r="7.3"/>
<circle cx="1142.0" cy="1348.6" r="7.3"/>
</g>
<g fill="#fff" stroke="#000" stroke-width="1.8">
<circle cx="1183.1" cy="1253.5" r="7.4"/>
<circle cx="1165.8" cy="1267.1" r="7.4"/>
<circle cx="1170.3" cy="1280.7" r="7.4"/>
<circle cx="1110.3" cy="1294.3" r="7.4"/>
<circle cx="1158.9" cy="1307.9" r="7.4"/>
<circle cx="1084.2" cy="1335.1" r="7.4"/>
<circle cx="1101.7" cy="1335.1" r="7.4"/>
<circle cx="1125.6" cy="1335.1" r="7.4"/>
<circle cx="1069.5" cy="1362.2" r="7.4"/>
<circle cx="1084.4" cy="1362.2" r="7.4"/>
</g>
<text transform="translate(1097.4 972.9) scale(1 1.02)" font-size="30" textLength="181.7" lengthAdjust="spacing" stroke="#000" stroke-width="0.3">Santa Maria</text>
<text x="83.8" y="448.6" font-size="22" text-anchor="end" letter-spacing="1.3" stroke="#000" stroke-width="0.25">0</text>
<text x="83.8" y="380.8" font-size="22" text-anchor="end" letter-spacing="1.3" stroke="#000" stroke-width="0.25">5</text>
<text x="83.8" y="312.9" font-size="22" text-anchor="end" letter-spacing="1.3" stroke="#000" stroke-width="0.25">10</text>
<text x="83.8" y="245.0" font-size="22" text-anchor="end" letter-spacing="1.3" stroke="#000" stroke-width="0.25">15</text>
<text x="83.8" y="177.2" font-size="22" text-anchor="end" letter-spacing="1.3" stroke="#000" stroke-width="0.25">20</text>
<text x="83.8" y="109.3" font-size="22" text-anchor="end" letter-spacing="1.3" stroke="#000" stroke-width="0.25">25</text>
<text x="83.8" y="41.5" font-size="22" text-anchor="end" letter-spacing="1.3" stroke="#000" stroke-width="0.25">30</text>
<text x="85.1" y="923.9" font-size="22" text-anchor="end" letter-spacing="1.3" stroke="#000" stroke-width="0.25">0</text>
<text x="85.1" y="855.8" font-size="22" text-anchor="end" letter-spacing="1.3" stroke="#000" stroke-width="0.25">5</text>
<text x="85.1" y="787.7" font-size="22" text-anchor="end" letter-spacing="1.3" stroke="#000" stroke-width="0.25">10</text>
<text x="85.1" y="719.6" font-size="22" text-anchor="end" letter-spacing="1.3" stroke="#000" stroke-width="0.25">15</text>
<text x="85.1" y="651.5" font-size="22" text-anchor="end" letter-spacing="1.3" stroke="#000" stroke-width="0.25">20</text>
<text x="85.1" y="583.4" font-size="22" text-anchor="end" letter-spacing="1.3" stroke="#000" stroke-width="0.25">25</text>
<text x="85.1" y="515.3" font-size="22" text-anchor="end" letter-spacing="1.3" stroke="#000" stroke-width="0.25">30</text>
<text x="83.9" y="1398.8" font-size="22" text-anchor="end" letter-spacing="1.3" stroke="#000" stroke-width="0.25">0</text>
<text x="83.9" y="1330.7" font-size="22" text-anchor="end" letter-spacing="1.3" stroke="#000" stroke-width="0.25">5</text>
<text x="83.9" y="1262.6" font-size="22" text-anchor="end" letter-spacing="1.3" stroke="#000" stroke-width="0.25">10</text>
<text x="83.9" y="1194.5" font-size="22" text-anchor="end" letter-spacing="1.3" stroke="#000" stroke-width="0.25">15</text>
<text x="83.9" y="1126.5" font-size="22" text-anchor="end" letter-spacing="1.3" stroke="#000" stroke-width="0.25">20</text>
<text x="83.9" y="1058.4" font-size="22" text-anchor="end" letter-spacing="1.3" stroke="#000" stroke-width="0.25">25</text>
<text x="83.9" y="990.3" font-size="22" text-anchor="end" letter-spacing="1.3" stroke="#000" stroke-width="0.25">30</text>
<text x="103.5" y="1433.2" font-size="22" text-anchor="middle" stroke="#000" stroke-width="0.25">0</text>
<text x="205.6" y="1433.2" font-size="22" text-anchor="middle" stroke="#000" stroke-width="0.25">2</text>
<text x="307.7" y="1433.2" font-size="22" text-anchor="middle" stroke="#000" stroke-width="0.25">4</text>
<text x="409.8" y="1433.2" font-size="22" text-anchor="middle" stroke="#000" stroke-width="0.25">6</text>
<text x="511.9" y="1433.2" font-size="22" text-anchor="middle" stroke="#000" stroke-width="0.25">8</text>
<text x="542.9" y="1434.3" font-size="22" text-anchor="middle" stroke="#000" stroke-width="0.25">0</text>
<text x="644.8" y="1434.3" font-size="22" text-anchor="middle" stroke="#000" stroke-width="0.25">2</text>
<text x="746.6" y="1434.3" font-size="22" text-anchor="middle" stroke="#000" stroke-width="0.25">4</text>
<text x="848.5" y="1434.3" font-size="22" text-anchor="middle" stroke="#000" stroke-width="0.25">6</text>
<text x="950.4" y="1434.3" font-size="22" text-anchor="middle" stroke="#000" stroke-width="0.25">8</text>
<text x="985.4" y="1432.6" font-size="22" text-anchor="middle" stroke="#000" stroke-width="0.25">0</text>
<text x="1087.4" y="1432.6" font-size="22" text-anchor="middle" stroke="#000" stroke-width="0.25">2</text>
<text x="1189.4" y="1432.6" font-size="22" text-anchor="middle" stroke="#000" stroke-width="0.25">4</text>
<text x="1291.4" y="1432.6" font-size="22" text-anchor="middle" stroke="#000" stroke-width="0.25">6</text>
<text x="1393.4" y="1432.6" font-size="22" text-anchor="middle" stroke="#000" stroke-width="0.25">8</text>
<text transform="translate(583.6 1487.7) scale(1 1.03)" font-size="24.5" textLength="326.5" lengthAdjust="spacing" stroke="#000" stroke-width="0.25">Basibiont shell length (cm)</text>
<text transform="translate(26.8 866.5) rotate(-90) scale(1 1.12)" font-size="24.5" textLength="312" lengthAdjust="spacing" stroke="#000" stroke-width="0.25">Epibiota richness (shell<tspan font-size="16" dy="-11.6">-1</tspan><tspan dy="11.6">)</tspan></text>
</g></svg>
</body></html>
